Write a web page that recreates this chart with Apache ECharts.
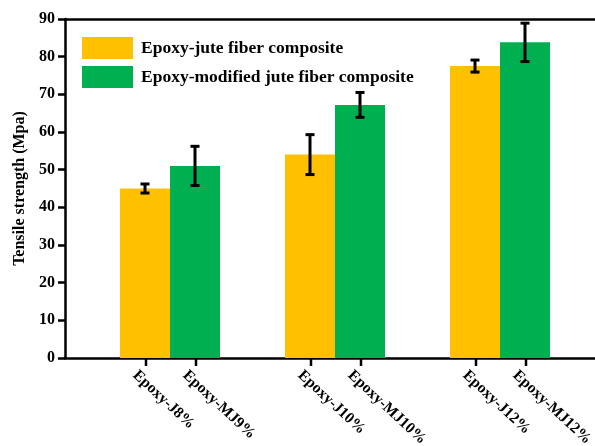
<!DOCTYPE html>
<html>
<head>
<meta charset="utf-8">
<script src="https://cdn.jsdelivr.net/npm/echarts@6/dist/echarts.min.js"></script>
<style>html,body{margin:0;padding:0;background:#fff}#c{width:595px;height:446px}</style>
</head>
<body>
<div id="c"></div>
<script>
var groups = ['8-9%', '10%', '12%'];
var seriesNames = ['Epoxy-jute fiber composite', 'Epoxy-modified jute fiber composite'];
var jute = [45, 54, 77.5];
var juteErr = [1.2, 5.3, 1.6];
var modJute = [51, 67.2, 83.8];
var modJuteErr = [5.2, 3.3, 5.1];
var juteLabels = ['Epoxy-J8%', 'Epoxy-J10%', 'Epoxy-J12%'];
var modLabels = ['Epoxy-MJ9%', 'Epoxy-MJ10%', 'Epoxy-MJ12%'];
var yTicks = [0, 10, 20, 30, 40, 50, 60, 70, 80, 90];

var FONT = '"Liberation Serif", "Times New Roman", serif';
var BARW = 50;

function errSeries(vals, errs, labels, offset) {
  var data = vals.map(function (v, i) { return [i, v, errs[i]]; });
  return {
    type: 'custom',
    xAxisIndex: 1, yAxisIndex: 1,
    silent: true,
    z: 10,
    data: data,
    renderItem: function (params, api) {
      var i = api.value(0);
      var v = api.value(1), e = api.value(2);
      var hi = api.coord([i, v + e]);
      var lo = api.coord([i, v - e]);
      var base = api.coord([i, 0]);
      var x = hi[0] + offset;
      var cw = 4.5;
      var st = { stroke: '#000', lineWidth: 3 };
      return {
        type: 'group',
        children: [
          { type: 'line', shape: { x1: x, y1: hi[1], x2: x, y2: lo[1] }, style: st },
          { type: 'line', shape: { x1: x - cw, y1: hi[1], x2: x + cw, y2: hi[1] }, style: st },
          { type: 'line', shape: { x1: x - cw, y1: lo[1], x2: x + cw, y2: lo[1] }, style: st },
          { type: 'line', shape: { x1: x + 1, y1: base[1], x2: x + 1, y2: base[1] + 8 }, style: { stroke: '#000', lineWidth: 2.5 } },
          {
            type: 'text', x: x - 10, y: base[1] + 15, rotation: -0.75,
            style: { text: labels[i], fill: '#000', font: 'bold 15.5px ' + FONT, textAlign: 'left', textVerticalAlign: 'middle' }
          }
        ]
      };
    }
  };
}

var chart = echarts.init(document.getElementById('c'), null, { renderer: 'canvas' });
chart.setOption({
  animation: false,
  backgroundColor: '#fff',
  grid: [
    { left: 65, right: 0, top: 19, bottom: 88 },
    { left: 87.5, right: 12.5, top: 19, bottom: 88 }
  ],
  legend: {
    orient: 'vertical', left: 77, top: 32,
    itemWidth: 51, itemHeight: 22, itemGap: 7,
    icon: 'rect',
    data: seriesNames,
    textStyle: { fontFamily: FONT, fontWeight: 'bold', fontSize: 17.5, color: '#000', padding: [0, 0, 0, 3] }
  },
  xAxis: [
    { gridIndex: 0, type: 'category', data: [''], position: 'bottom',
      axisLine: { lineStyle: { color: '#000', width: 2.5 } }, axisTick: { show: false }, axisLabel: { show: false } },
    { gridIndex: 1, type: 'category', data: groups,
      axisLine: { show: false }, axisTick: { show: false }, axisLabel: { show: false } },
    { gridIndex: 0, type: 'category', data: [''], position: 'top',
      axisLine: { lineStyle: { color: '#000', width: 2.5 } }, axisTick: { show: false }, axisLabel: { show: false } }
  ],
  yAxis: [
    { gridIndex: 0, type: 'value', min: 0, max: 90, interval: 10,
      name: 'Tensile strength (Mpa)', nameLocation: 'middle', nameGap: 37,
      nameTextStyle: { fontFamily: FONT, fontWeight: 'bold', fontSize: 16, color: '#000' },
      axisLine: { show: true, lineStyle: { color: '#000', width: 2.5 } },
      axisTick: { show: true, length: 7, lineStyle: { color: '#000', width: 2.5 } },
      axisLabel: { fontFamily: FONT, fontWeight: 'bold', fontSize: 16, color: '#000', margin: 10,
        formatter: function (v) { return yTicks.indexOf(v) >= 0 ? String(v) : ''; } },
      splitLine: { show: false } },
    { gridIndex: 1, type: 'value', min: 0, max: 90, show: false, splitLine: { show: false } }
  ],
  series: [
    { name: seriesNames[0], type: 'bar', xAxisIndex: 1, yAxisIndex: 1, data: jute,
      barWidth: BARW, barGap: '0%', itemStyle: { color: '#FFC000' } },
    { name: seriesNames[1], type: 'bar', xAxisIndex: 1, yAxisIndex: 1, data: modJute,
      barWidth: BARW, barGap: '0%', itemStyle: { color: '#00B050' } },
    errSeries(jute, juteErr, juteLabels, -BARW / 2),
    errSeries(modJute, modJuteErr, modLabels, BARW / 2)
  ]
});
</script>
</body>
</html>
